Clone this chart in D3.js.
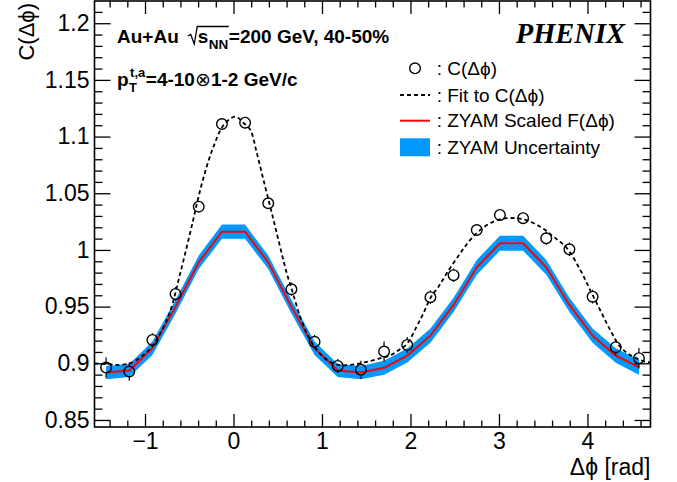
<!DOCTYPE html>
<html><head><meta charset="utf-8">
<script src="https://cdn.jsdelivr.net/npm/d3@7"></script>
<style>
html,body{margin:0;padding:0;background:#fff;}
svg{display:block;}
text{font-family:"Liberation Sans",Arial,Helvetica,sans-serif;fill:#000;}
</style></head>
<body>
<svg id="c" width="677" height="482"></svg>
<script>
// ---------- data ----------
const dphi = [-1.4399,-1.1781,-0.9163,-0.6545,-0.3927,-0.1309,0.1309,0.3927,0.6545,0.9163,1.1781,1.4399,
              1.7017,1.9635,2.2253,2.4871,2.7489,3.0107,3.2725,3.5343,3.7961,4.0579,4.3197,4.5815];
const cValues = [0.8962,0.8927,0.9206,0.9612,1.0382,1.1111,1.1123,1.0412,0.9653,0.9189,0.8977,0.8942,
                 0.9103,0.9162,0.9583,0.9777,1.0176,1.0309,1.0280,1.0103,1.0006,0.9588,0.9142,0.9045];
const cErrors = [0.009,0.008,0.006,0.006,0.005,0.005,0.005,0.005,0.006,0.006,0.006,0.008,
                 0.009,0.007,0.006,0.006,0.005,0.005,0.005,0.006,0.006,0.006,0.007,0.009];
const zyamValues = [0.8918,0.8936,0.9133,0.9500,0.9891,1.0161,1.0161,0.9891,0.9500,0.9133,0.8936,0.8918,
                    0.8960,0.9068,0.9244,0.9515,0.9847,1.0059,1.0059,0.9847,0.9515,0.9244,0.9068,0.8966];
const zyamErrors = [0.0058,0.0058,0.006,0.006,0.006,0.0063,0.0063,0.006,0.006,0.006,0.0058,0.0058,
                    0.0062,0.0062,0.0062,0.0063,0.0065,0.0066,0.0066,0.0065,0.0063,0.0062,0.0064,0.0066];
const fitX = [-1.5708,-1.40,-1.30,-1.17,-1.05,-0.92,-0.81,-0.715,-0.60,-0.46,-0.395,-0.32,-0.226,-0.113,0.02,
              0.113,0.19,0.264,0.339,0.415,0.471,0.60,0.66,0.753,0.847,0.942,1.055,1.186,1.318,1.469,1.62,1.77,
              1.87,1.959,2.07,2.147,2.23,2.317,2.41,2.562,2.675,2.788,2.939,3.09,3.277,3.466,3.616,3.768,3.918,
              4.03,4.143,4.256,4.369,4.482,4.652,4.712];
const fitY = [0.9000,0.8990,0.8986,0.9000,0.9055,0.9150,0.9290,0.9460,0.9800,1.0250,1.0470,1.0690,1.0911,1.1100,1.1176,
              1.1120,1.1058,1.0853,1.0617,1.0382,1.0205,0.9800,0.9647,0.9412,0.9235,0.9118,0.9030,0.8986,0.8986,0.9006,0.9036,0.9070,
              0.9118,0.9170,0.9324,0.9442,0.9583,0.9676,0.9794,0.9971,1.0088,1.0176,1.0250,1.0280,1.0270,1.0205,1.0117,1.0015,0.9824,
              0.9647,0.9470,0.9295,0.9147,0.9074,0.9015,0.9010];
const xMajorTicks = [-1,0,1,2,3,4];
const yMajorTicks = [0.85,0.9,0.95,1,1.05,1.1,1.15,1.2];
const legendLabels = [": C(\u0394\u03d5)", ": Fit to C(\u0394\u03d5)", ": ZYAM Scaled F(\u0394\u03d5)", ": ZYAM Uncertainty"];

// ---------- layout ----------
const L = 94.5, R = 650.5, T = 1, B = 427;
const svg = d3.select("#c");
const x = d3.scaleLinear().domain([-Math.PI/2, 3*Math.PI/2]).range([L, R]);
const y = d3.scaleLinear().domain([0.8438, 1.2196]).range([B, T]);

const xMinor = d3.range(-1.4, 4.71, 0.2).map(v => +v.toFixed(1)).filter(v => Math.abs(v - Math.round(v)) > 1e-6);
const yMinor = d3.range(0.85, 1.2196, 0.01).map(v => +v.toFixed(2)).filter(v => yMajorTicks.indexOf(v) < 0);

const plot = svg.append("g");
const clipId = "clipP";
svg.append("clipPath").attr("id", clipId).append("rect").attr("x", L).attr("y", T).attr("width", R-L).attr("height", B-T);
plot.attr("clip-path", `url(#${clipId})`);

// ZYAM band
const band = d3.area()
  .x((d,i) => x(dphi[i]))
  .y0((d,i) => y(zyamValues[i] - zyamErrors[i]))
  .y1((d,i) => y(zyamValues[i] + zyamErrors[i]));
plot.append("path").attr("d", band(zyamValues)).attr("fill", "#0099ff");

// ZYAM line
const zline = d3.line().x((d,i) => x(dphi[i])).y(d => y(d));
plot.append("path").attr("d", zline(zyamValues)).attr("fill","none").attr("stroke","#ff0000").attr("stroke-width",2);

// fit
const fline = d3.line().x((d,i) => x(fitX[i])).y(d => y(d)).curve(d3.curveCatmullRom.alpha(0.5));
plot.append("path").attr("d", fline(fitY)).attr("fill","none").attr("stroke","#000")
  .attr("stroke-width",1.8).attr("stroke-dasharray","4,3");

// points with error bars
const r = 5.3;
const pts = plot.append("g");
cValues.forEach((v,i) => {
  const cx = x(dphi[i]), cy = y(v), yt = y(v + cErrors[i]), yb = y(v - cErrors[i]);
  if (cy - r > yt) pts.append("line").attr("x1",cx).attr("x2",cx).attr("y1",yt).attr("y2",cy - r).attr("stroke","#000").attr("stroke-width",1.2);
  if (yb > cy + r) pts.append("line").attr("x1",cx).attr("x2",cx).attr("y1",cy + r).attr("y2",yb).attr("stroke","#000").attr("stroke-width",1.2);
  pts.append("circle").attr("cx",cx).attr("cy",cy).attr("r",r).attr("fill","none").attr("stroke","#000").attr("stroke-width",1.4);
});

// ---------- axes ----------
function style(g){ g.select(".domain").remove(); g.selectAll("line").attr("stroke","#000").attr("stroke-width",1.3); g.selectAll("text").attr("font-size",23).attr("font-family","Liberation Sans, Arial, sans-serif").attr("fill","#000"); }
const fmtY = d => String(+d.toFixed(2));
svg.append("g").attr("transform",`translate(0,${B})`)
  .call(d3.axisBottom(x).tickValues(xMajorTicks).tickSizeInner(-13).tickSizeOuter(0).tickPadding(6).tickFormat(d => d < 0 ? "\u2212" + Math.abs(d) : String(d))).call(style);
svg.append("g").attr("transform",`translate(0,${B})`)
  .call(d3.axisBottom(x).tickValues(xMinor).tickSizeInner(-6.5).tickSizeOuter(0).tickFormat("")).call(style);
svg.append("g").attr("transform",`translate(0,${T})`)
  .call(d3.axisTop(x).tickValues(xMajorTicks).tickSizeInner(-13).tickSizeOuter(0).tickFormat("")).call(style);
svg.append("g").attr("transform",`translate(0,${T})`)
  .call(d3.axisTop(x).tickValues(xMinor).tickSizeInner(-6.5).tickSizeOuter(0).tickFormat("")).call(style);
svg.append("g").attr("transform",`translate(${L},0)`)
  .call(d3.axisLeft(y).tickValues(yMajorTicks).tickSizeInner(-16).tickSizeOuter(0).tickPadding(5).tickFormat(fmtY)).call(style);
svg.append("g").attr("transform",`translate(${L},0)`)
  .call(d3.axisLeft(y).tickValues(yMinor).tickSizeInner(-8).tickSizeOuter(0).tickFormat("")).call(style);
svg.append("g").attr("transform",`translate(${R},0)`)
  .call(d3.axisRight(y).tickValues(yMajorTicks).tickSizeInner(-16).tickSizeOuter(0).tickFormat("")).call(style);
svg.append("g").attr("transform",`translate(${R},0)`)
  .call(d3.axisRight(y).tickValues(yMinor).tickSizeInner(-8).tickSizeOuter(0).tickFormat("")).call(style);

svg.append("rect").attr("x",L).attr("y",T).attr("width",R-L).attr("height",B-T)
  .attr("fill","none").attr("stroke","#000").attr("stroke-width",1.6);

// axis titles
svg.append("text").attr("x",R).attr("y",475).attr("text-anchor","end").attr("font-size",23).text("\u0394\u03d5 [rad]");
svg.append("text").attr("transform","translate(34,3) rotate(-90)").attr("text-anchor","end").attr("font-size",22).text("C(\u0394\u03d5)");

// ---------- annotations ----------
function T1(xp, yp, txt, size, weight){
  return svg.append("text").attr("x",xp).attr("y",yp).attr("font-size",size).attr("font-weight",weight||"bold").text(txt);
}
// line 1
let cx1 = 117;
let t = T1(cx1, 43.3, "Au+Au", 19);
cx1 += t.node().getComputedTextLength() + 11;
const radX = cx1;
cx1 += 8;
t = T1(cx1, 43.3, "s", 19);
cx1 += t.node().getComputedTextLength() + 0.5;
t = T1(cx1, 49, "NN", 13.5);
cx1 += t.node().getComputedTextLength() + 0.5;
svg.append("path").attr("d",`M${radX-2},36 L${radX+1},34.5 L${radX+4.5},44 L${radX+7.5},26.5 L${cx1},26.5`)
  .attr("fill","none").attr("stroke","#000").attr("stroke-width",1.3);
T1(cx1, 43.3, "=200 GeV, 40-50%", 19);

// line 2
let cx2 = 117;
t = T1(cx2, 85.5, "p", 19);
cx2 += t.node().getComputedTextLength() + 0.5;
const tT = T1(cx2, 92, "T", 13);
const tS = T1(cx2 + 1, 77, "t,a", 13);
cx2 += Math.max(tT.node().getComputedTextLength(), tS.node().getComputedTextLength() + 1) + 0.5;
const l2 = svg.append("text").attr("x",cx2).attr("y",85.5).attr("font-size",19).attr("font-weight","bold");
l2.append("tspan").text("=4-10");
l2.append("tspan").attr("font-weight","normal").text("\u2297");
l2.append("tspan").text("1-2 GeV/c");

// PHENIX
svg.append("text").attr("x",625).attr("y",43.3).attr("text-anchor","end")
  .style("font-family","'Liberation Serif','Times New Roman',serif").attr("font-style","italic").attr("font-weight","bold")
  .attr("font-size",28.5).attr("fill","#222").text("PHENIX");

// ---------- legend ----------
const legY = [68.3, 95, 120.7, 147.3];
const lg = svg.append("g");
lg.append("circle").attr("cx",415).attr("cy",legY[0]).attr("r",r).attr("fill","none").attr("stroke","#000").attr("stroke-width",1.4);
lg.append("line").attr("x1",400).attr("x2",430).attr("y1",legY[1]).attr("y2",legY[1]).attr("stroke","#000").attr("stroke-width",1.8).attr("stroke-dasharray","4,3");
lg.append("line").attr("x1",400).attr("x2",430).attr("y1",legY[2]).attr("y2",legY[2]).attr("stroke","#ff0000").attr("stroke-width",2);
lg.append("rect").attr("x",400).attr("y",legY[3]-9).attr("width",30).attr("height",18).attr("fill","#0099ff");
legendLabels.forEach((s,i) => {
  lg.append("text").attr("x",436.7).attr("y",legY[i]+6.6).attr("font-size",19).text(s);
});
</script>
</body></html>
